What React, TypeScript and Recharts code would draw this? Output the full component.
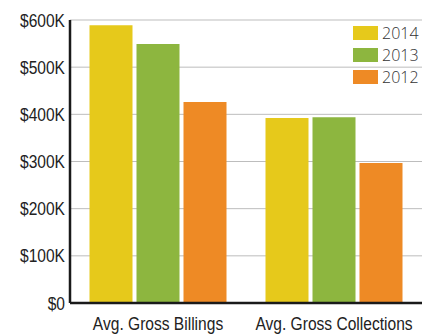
import { BarChart, Bar, XAxis, YAxis, CartesianGrid } from 'recharts';

const categories = ['Avg. Gross Billings', 'Avg. Gross Collections'];
const years = ['2014', '2013', '2012'];
const values2014 = [589000, 392000];
const values2013 = [549000, 394000];
const values2012 = [426000, 297000];
const yTicks = [0, 100000, 200000, 300000, 400000, 500000, 600000];

const COLORS = ['#E6C91B', '#8DB63F', '#EE8A25'];
const FONT = '"Liberation Sans", Arial, sans-serif';
const NARROW = 0.82; // horizontal squeeze to get a narrow face

const fmt = (v: number) => (v === 0 ? '$0' : `$${v / 1000}K`);

const data = categories.map((name, i) => ({
    name,
    '2014': values2014[i],
    '2013': values2013[i],
    '2012': values2012[i],
}));

// y tick: right-aligned, narrow
function YTick({ x, y, payload }: any) {
    return (
        <g transform={`translate(${x},${y}) scale(${NARROW},1)`}>
            <text x={0} y={0} dy={6.5} textAnchor="end" fill="#222" fontSize={19} fontFamily={FONT}>
                {fmt(payload.value)}
            </text>
        </g>
    );
}

// category label under each group
function XTick({ x, y, payload }: any) {
    return (
        <g transform={`translate(${x},${y}) scale(${NARROW},1)`}>
            <text x={0} y={0} dy={19} textAnchor="middle" fill="#222" fontSize={19} fontFamily={FONT}>
                {payload.value}
            </text>
        </g>
    );
}

// vertical legend: wide colour swatch + light year label
function YearLegend() {
    return (
        <div
            style={{
                position: 'absolute', left: 353, top: 22,
                fontFamily: '"Open Sans", sans-serif', fontWeight: 300, fontSize: 16, color: '#333',
            }}
        >
            {years.map((y, i) => (
                <div key={y} style={{ display: 'flex', alignItems: 'center', height: 22 }}>
                    <div style={{ width: 25, height: 14, background: COLORS[i], marginRight: 4 }} />
                    <span>{y}</span>
                </div>
            ))}
        </div>
    );
}

export default function App() {
    return (
        <div style={{ position: 'absolute', left: 0, top: 0, width: 431, height: 335, background: '#fff' }}>
            <BarChart
                width={431}
                height={335}
                data={data}
                margin={{ top: 20, right: 9, left: 0, bottom: 0 }}
                barCategoryGap={19.5}
                barGap={4}
            >
                <CartesianGrid vertical={false} stroke="#bdbdbd" strokeWidth={1} />
                <XAxis
                    dataKey="name"
                    height={32}
                    interval={0}
                    tickLine={false}
                    tickSize={6}
                    tickMargin={2}
                    axisLine={{ stroke: '#1a1a1a', strokeWidth: 2.5 }}
                    tick={<XTick />}
                />
                <YAxis
                    width={70}
                    domain={[0, 600000]}
                    ticks={yTicks}
                    interval={0}
                    tickLine={false}
                    tickSize={3}
                    tickMargin={2}
                    axisLine={{ stroke: '#1a1a1a', strokeWidth: 2.5 }}
                    tick={<YTick />}
                />
                {years.map((y, i) => (
                    <Bar key={y} dataKey={y} fill={COLORS[i]} isAnimationActive={false} />
                ))}
            </BarChart>
            <YearLegend />
        </div>
    );
}
